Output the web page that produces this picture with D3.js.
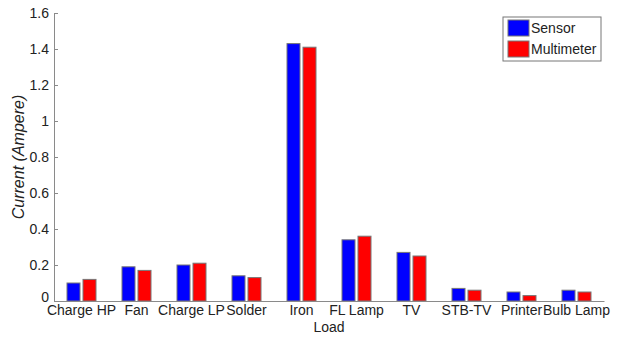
<!DOCTYPE html>
<html>
<head>
<meta charset="utf-8">
<script src="https://cdn.jsdelivr.net/npm/d3@7"></script>
<style>
  html, body { margin: 0; padding: 0; background: #fff; }
  svg { display: block; font-family: "Liberation Sans", Arial, sans-serif; }
</style>
</head>
<body>
<svg id="chart" width="619" height="338"></svg>
<script>
// Measured current per load, sensor vs multimeter
const categories = ["Charge HP", "Fan", "Charge LP", "Solder", "Iron", "FL Lamp", "TV", "STB-TV", "Printer", "Bulb Lamp"];
const sensorValues = [0.10, 0.19, 0.20, 0.14, 1.43, 0.34, 0.27, 0.07, 0.05, 0.06];
const multimeterValues = [0.12, 0.17, 0.21, 0.13, 1.41, 0.36, 0.25, 0.06, 0.03, 0.05];
const seriesNames = ["Sensor", "Multimeter"];
const seriesColors = ["#0000ff", "#ff0000"];
const yTicks = [0, 0.2, 0.4, 0.6, 0.8, 1, 1.2, 1.4, 1.6];

const svg = d3.select("#chart");
const plot = { left: 54, right: 604, top: 13, bottom: 301 };
const textColor = "#222";
const axisColor = "#8a8a8a";

const x0 = d3.scaleBand().domain(categories).range([plot.left, plot.right]).padding(0);
const x1 = d3.scaleBand().domain(seriesNames).range([0, x0.bandwidth()])
  .paddingInner(0.1875).paddingOuter(0.8125);
const y = d3.scaleLinear().domain([0, 1.6]).range([plot.bottom, plot.top]);
const color = d3.scaleOrdinal().domain(seriesNames).range(seriesColors);

const rows = categories.map((c, i) => ({
  category: c,
  values: [
    { series: "Sensor", value: sensorValues[i] },
    { series: "Multimeter", value: multimeterValues[i] }
  ]
}));

// Bars
const groups = svg.append("g").selectAll("g").data(rows).join("g")
  .attr("transform", d => `translate(${x0(d.category)},0)`);
groups.selectAll("rect").data(d => d.values).join("rect")
  .attr("x", d => x1(d.series))
  .attr("y", d => y(d.value))
  .attr("width", x1.bandwidth())
  .attr("height", d => y(0) - y(d.value))
  .attr("fill", d => color(d.series))
  .attr("stroke", "#777")
  .attr("stroke-width", 1);

// Y axis (ticks point inward)
const yAxis = d3.axisLeft(y).tickValues(yTicks).tickSize(-4).tickPadding(5)
  .tickFormat(d => d3.format("")(+d.toFixed(1)));
const gy = svg.append("g").attr("transform", `translate(${plot.left},0)`).call(yAxis);
gy.select(".domain").attr("stroke", axisColor);
gy.selectAll(".tick line").attr("stroke", axisColor);
gy.selectAll(".tick text").attr("fill", textColor).style("font-size", "14px").attr("dy", "0.32em");
gy.selectAll(".tick").filter(d => d === 0).select("text").attr("dy", "0.05em");

// X axis
const xAxis = d3.axisBottom(x0).tickSize(0).tickPadding(4);
const gx = svg.append("g").attr("transform", `translate(0,${plot.bottom})`).call(xAxis);
gx.select(".domain").attr("stroke", axisColor);
gx.selectAll(".tick text").attr("fill", textColor).style("font-size", "14px").attr("dy", "0.72em");

// Axis titles
svg.append("text")
  .attr("x", (plot.left + plot.right) / 2)
  .attr("y", 332)
  .attr("text-anchor", "middle")
  .attr("fill", textColor)
  .style("font-size", "14px")
  .text("Load");

svg.append("text")
  .attr("transform", `translate(24,${(plot.top + plot.bottom) / 2}) rotate(-90)`)
  .attr("text-anchor", "middle")
  .attr("fill", textColor)
  .style("font-size", "16px")
  .style("font-style", "italic")
  .text("Current (Ampere)");

// Legend
const legend = svg.append("g").attr("transform", "translate(503,17)");
legend.append("rect")
  .attr("width", 98).attr("height", 44)
  .attr("fill", "#fff").attr("stroke", "#777");
const items = legend.selectAll("g.item").data(seriesNames).join("g")
  .attr("class", "item")
  .attr("transform", (d, i) => `translate(5,${3 + i * 21})`);
items.append("rect")
  .attr("width", 21).attr("height", 16)
  .attr("fill", d => color(d))
  .attr("stroke", "#777");
items.append("text")
  .attr("x", 23).attr("y", 8).attr("dy", "0.35em")
  .attr("fill", textColor)
  .style("font-size", "14px")
  .text(d => d);
</script>
</body>
</html>
